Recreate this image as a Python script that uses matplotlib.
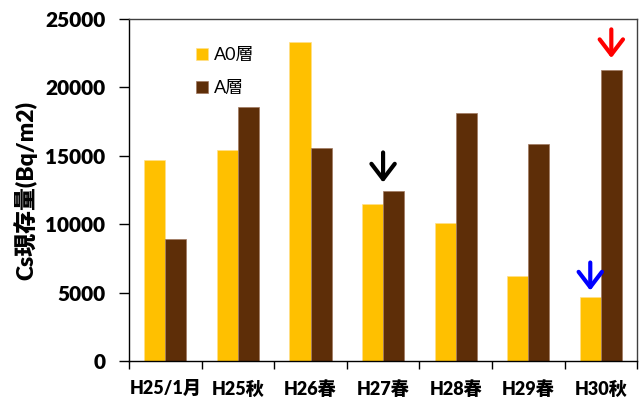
import numpy as np
import matplotlib
matplotlib.use("Agg")
import matplotlib.pyplot as plt

plt.rcParams['font.family'] = ['Lato', 'Noto Sans CJK JP', 'DejaVu Sans']

categories = ['H25/1月', 'H25秋', 'H26春', 'H27春', 'H28春', 'H29春', 'H30秋']
a0_layer = [14700, 15400, 23300, 11500, 10100, 6200, 4700]
a_layer = [8900, 18600, 15600, 12400, 18100, 15900, 21300]

# arrows: (category index, offset, tip value, tail value, colour)
arrows = [
    (3, 0.0, 13050, 15250, 'black'),
    (6, 0.145, 22150, 24250, 'red'),
    (6, -0.145, 5150, 7200, 'blue'),
]

fig = plt.figure(figsize=(6.39, 3.98), dpi=100)
ax = fig.add_axes([0.202, 0.093, 0.795, 0.859])

x = np.arange(len(categories))
w = 0.29
ax.bar(x - w / 2, a0_layer, w, color='#FFC000', edgecolor='#FFE08A', linewidth=0.5, label='A0層')
ax.bar(x + w / 2, a_layer, w, color='#5E2E08', edgecolor='#A07860', linewidth=0.5, label='A層')

for idx, off, tip, tail, col in arrows:
    ax.annotate('', xy=(idx + off, tip), xytext=(idx + off, tail),
                arrowprops=dict(arrowstyle='->, head_length=0.55, head_width=0.42',
                                color=col, lw=3, mutation_scale=20,
                                shrinkA=0, shrinkB=0))

ax.set_xlim(-0.5, len(categories) - 0.5)
ax.set_ylim(0, 25000)
ax.set_yticks(range(0, 25001, 5000))
ax.tick_params(axis='y', direction='out', length=7, width=1, pad=10, labelsize=15)
for t in ax.get_yticklabels():
    t.set_fontweight('heavy')

# ticks between groups, labels at group centres
ax.set_xticks(np.arange(-0.5, len(categories), 1.0))
ax.set_xticklabels([])
ax.tick_params(axis='x', which='major', direction='out', length=6, width=1)
ax.set_xticks(x, minor=True)
ax.set_xticklabels(categories, minor=True, fontsize=13, fontweight='heavy')
ax.tick_params(axis='x', which='minor', length=0, pad=14)

for s in ax.spines.values():
    s.set_color('#404040')
    s.set_linewidth(1)
ax.spines['left'].set_color('black')
ax.spines['bottom'].set_color('black')

ax.set_ylabel('Cs現存量(Bq/m2)', fontsize=16.5, fontweight='heavy', labelpad=6)

ax.legend(loc='upper left', bbox_to_anchor=(0.1, 0.965), frameon=False,
          fontsize=13, handlelength=0.66, handleheight=0.66, labelspacing=0.95,
          handletextpad=0.35)

fig.savefig('out.png', dpi=100)
